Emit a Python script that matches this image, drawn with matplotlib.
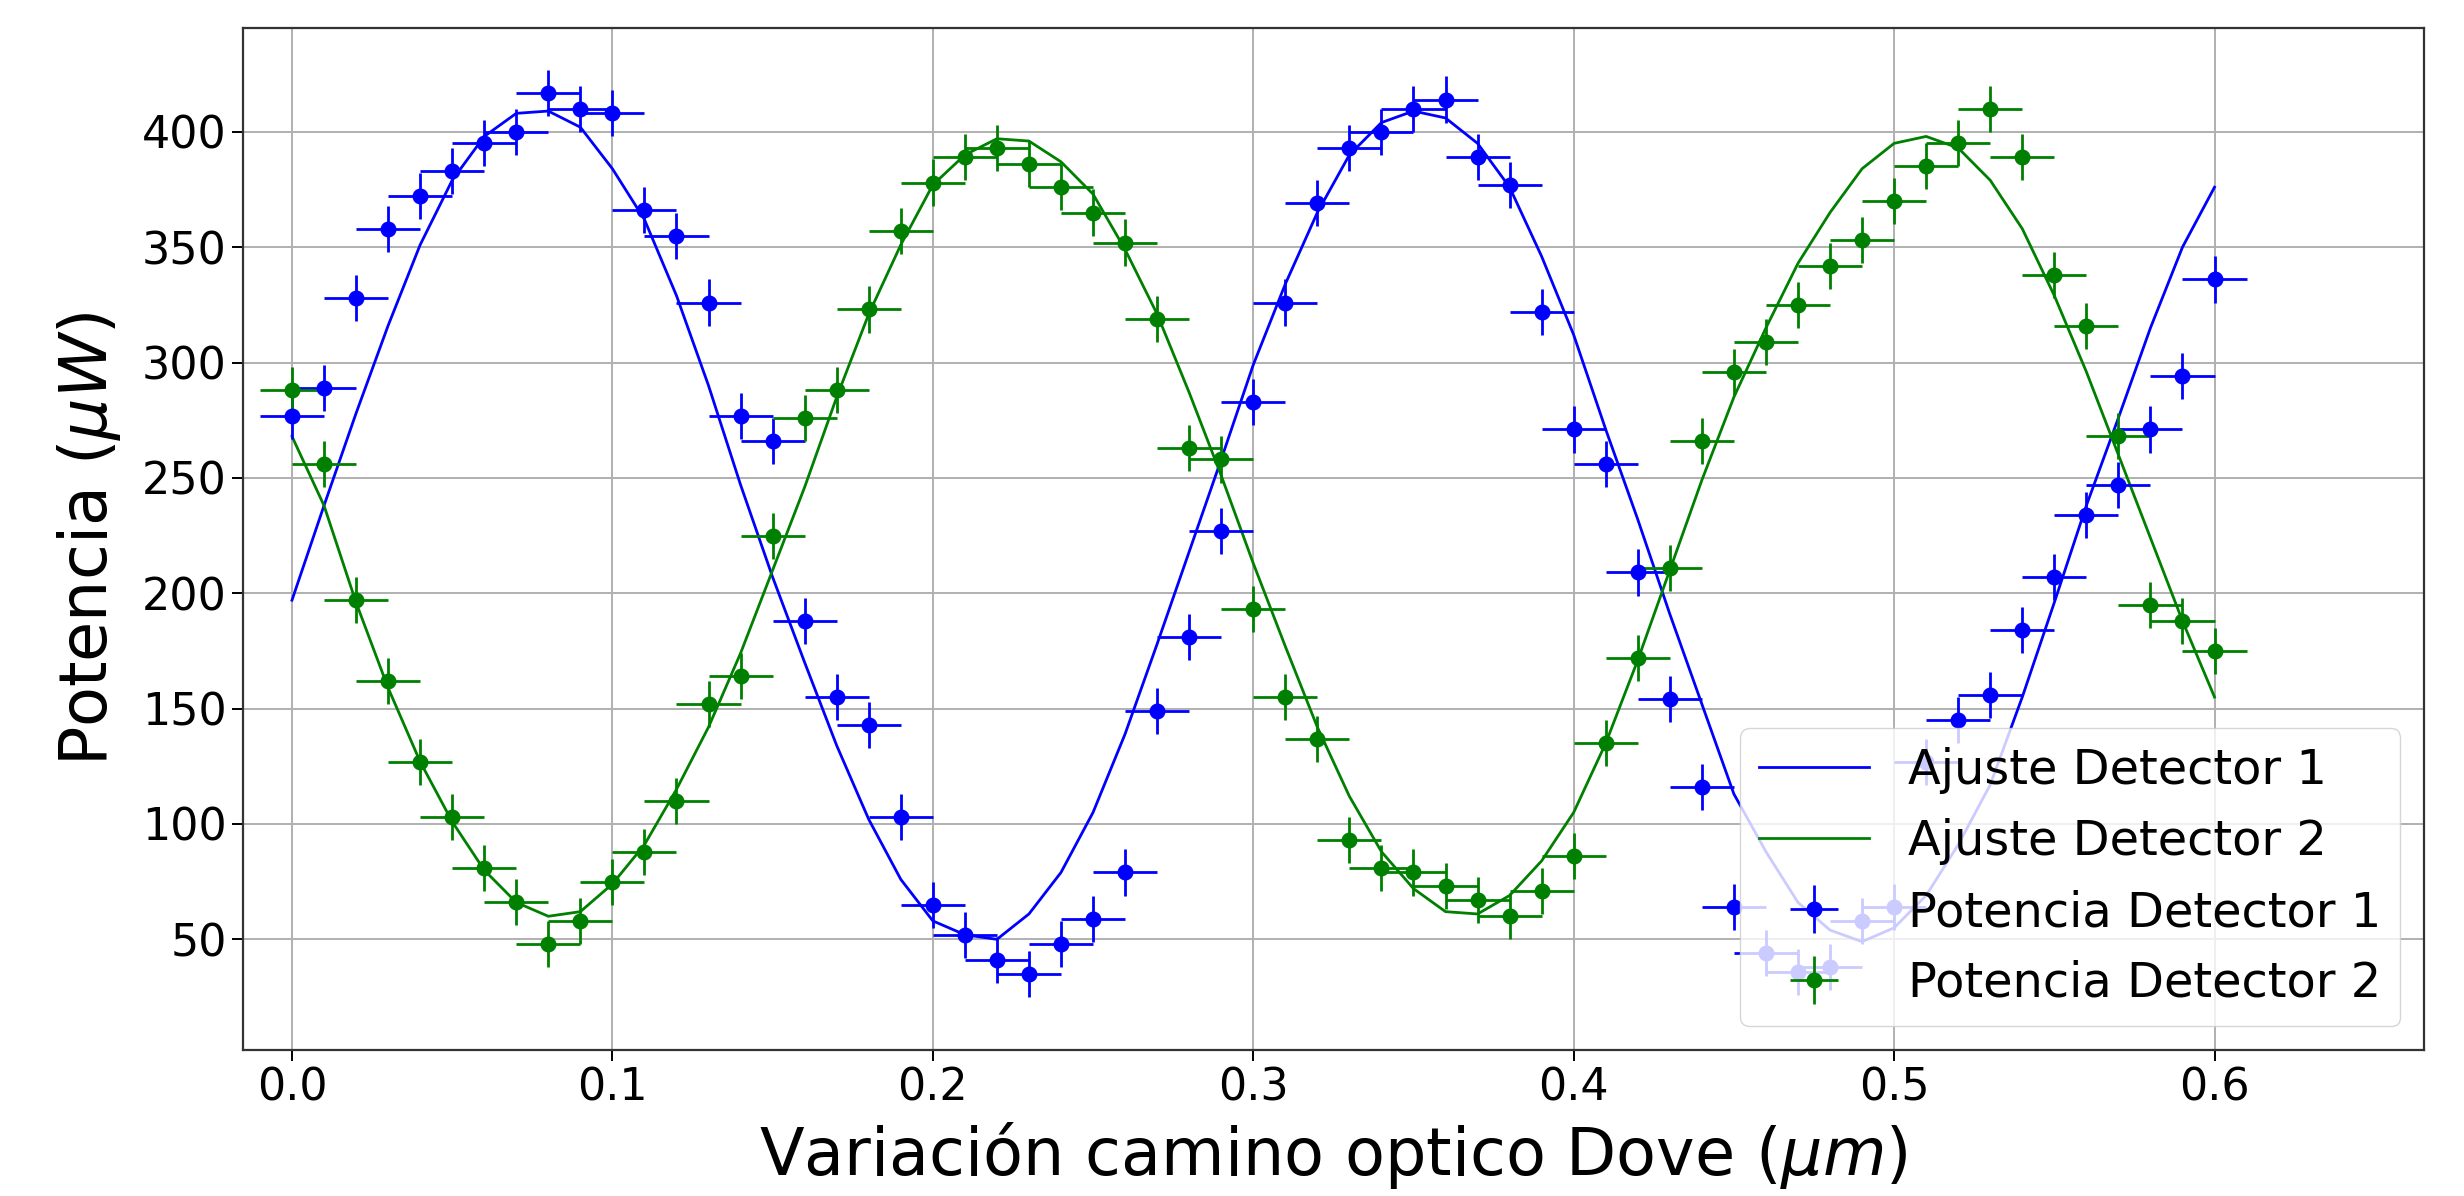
import matplotlib
matplotlib.use("Agg")
import matplotlib.pyplot as plt
import numpy as np

# DATA - optical path variation (um) and measured power (uW)
x = np.round(np.arange(0, 61) * 0.01, 2)

pot_det1 = [277, 289, 328, 358, 372, 383, 395, 400, 417, 410,
            408, 366, 355, 326, 277, 266, 188, 155, 143, 103,
            65, 52, 41, 35, 48, 59, 79, 149, 181, 227,
            283, 326, 369, 393, 400, 410, 414, 389, 377, 322,
            271, 256, 209, 154, 116, 64, 44, 36, 38, 58,
            64, 127, 145, 156, 184, 207, 234, 247, 271, 294,
            336]

pot_det2 = [288, 256, 197, 162, 127, 103, 81, 66, 48, 58,
            75, 88, 110, 152, 164, 225, 276, 288, 323, 357,
            378, 389, 393, 386, 376, 365, 352, 319, 263, 258,
            193, 155, 137, 93, 81, 79, 73, 67, 60, 71,
            86, 135, 172, 211, 266, 296, 309, 325, 342, 353,
            370, 385, 395, 410, 389, 338, 316, 268, 195, 188,
            175]

ajuste_det1 = [197, 238, 278, 316, 351, 379, 398, 408, 409, 402,
               384, 362, 329, 290, 247, 207, 170, 134, 102, 76,
               58, 52, 50, 61, 79, 105, 139, 178, 218, 258,
               299, 334, 365, 390, 404, 409, 406, 395, 376, 346,
               312, 271, 232, 191, 152, 113, 88, 66, 54, 49,
               55, 69, 91, 117, 155, 196, 238, 276, 315, 350,
               376]

ajuste_det2 = [268, 238, 196, 159, 127, 101, 80, 66, 60, 62,
               74, 91, 115, 142, 174, 210, 246, 285, 321, 351,
               377, 390, 397, 396, 387, 373, 349, 321, 287, 251,
               213, 177, 142, 112, 88, 72, 62, 61, 69, 84,
               105, 135, 171, 210, 249, 285, 315, 343, 365, 384,
               395, 398, 393, 379, 358, 329, 296, 260, 224, 188,
               155]

x_err = 0.01
y_err = 10

# ------------- PLOTTING --------------
fig = plt.figure(figsize=(24.64, 11.96), dpi=100)
ax = fig.add_axes([0.0986, 0.122, 0.8852, 0.8546])

ax.plot(x, ajuste_det1, color='b', lw=2.0, label='Ajuste Detector 1')
ax.plot(x, ajuste_det2, color='g', lw=2.0, label='Ajuste Detector 2')

ax.errorbar(x, pot_det1, xerr=x_err, yerr=y_err, fmt='o', color='b',
            ms=10.5, elinewidth=2.0, label='Potencia Detector 1')
ax.errorbar(x, pot_det2, xerr=x_err, yerr=y_err, fmt='o', color='g',
            ms=10.5, elinewidth=2.0, label='Potencia Detector 2')

ax.set_xlim(-0.0153, 0.6654)
ax.set_ylim(2, 445)
ax.set_yticks([50, 100, 150, 200, 250, 300, 350, 400])

ax.grid(True, color='#b0b0b0', lw=1.4)
ax.set_axisbelow(True)
for sp in ax.spines.values():
    sp.set_linewidth(1.6)
    sp.set_color('#333333')
ax.tick_params(labelsize=32, length=8, width=1.4)

ax.set_xlabel(r'Variación camino optico Dove ($\mu m$)', fontsize=47, labelpad=8)
ax.set_ylabel(r'Potencia ($\mu W$)', fontsize=47, labelpad=14)

ax.legend(loc='lower right', fontsize=34.5, handlelength=2.3)

plt.savefig('out.png', dpi=100)
